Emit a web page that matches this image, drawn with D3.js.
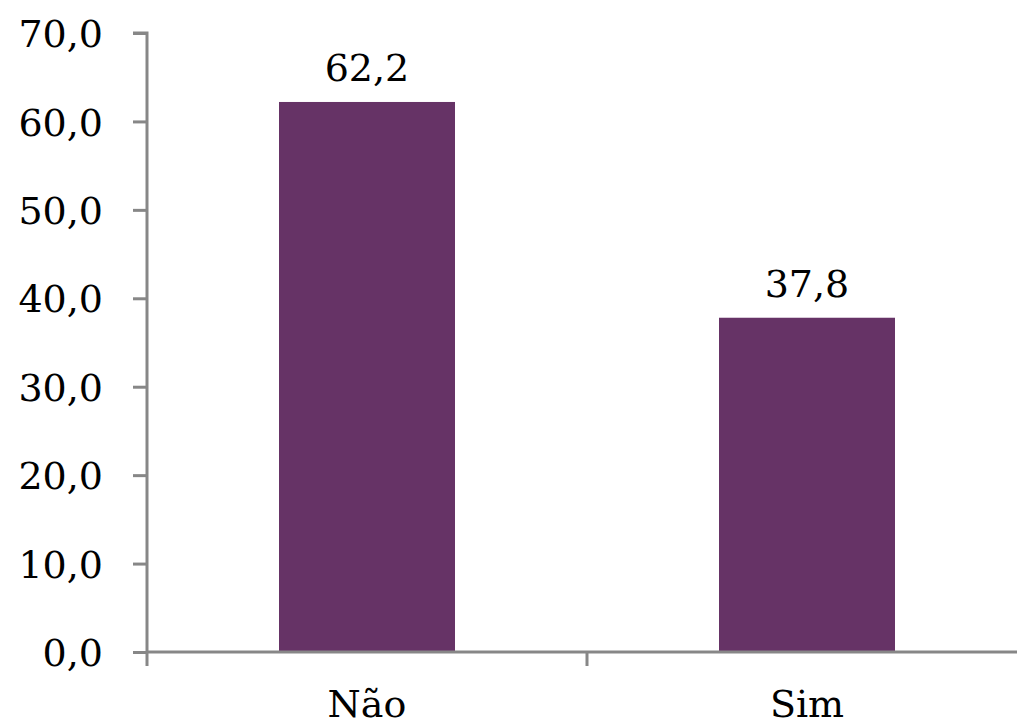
<!DOCTYPE html>
<html><head><meta charset="utf-8">
<script src="https://cdn.jsdelivr.net/npm/d3@7"></script>
<style>html,body{margin:0;padding:0;background:#fff;overflow:hidden}</style>
</head><body>
<svg id="c" width="1017" height="727"></svg>
<script>
const categories = ["Não", "Sim"];
const values = [62.2, 37.8];
const yTicks = [0, 10, 20, 30, 40, 50, 60, 70];

const svg = d3.select("#c");
const font = "'DejaVu Serif', serif";
const fs = 38;
const fmt = v => d3.format(".1f")(v).replace(".", ",");

const x = d3.scaleBand().domain(categories).range([147, 1027]).padding(0);
const y = d3.scaleLinear().domain([0, 70]).range([652, 33]);
const barW = x.bandwidth() * 0.4;
const axisColor = "#878787";

svg.selectAll("rect.bar").data(values).join("rect")
  .attr("class", "bar")
  .attr("x", (d, i) => x(categories[i]) + x.bandwidth() / 2 - barW / 2)
  .attr("width", barW)
  .attr("y", d => y(d))
  .attr("height", d => y(0) - y(d))
  .attr("fill", "#663366");

svg.selectAll("text.val").data(values).join("text")
  .attr("class", "val")
  .attr("x", (d, i) => x(categories[i]) + x.bandwidth() / 2)
  .attr("y", d => y(d) - 21)
  .attr("text-anchor", "middle")
  .attr("font-family", font).attr("font-size", fs)
  .attr("fill", "#000")
  .text(d => fmt(d));

// y axis
const yAxis = d3.axisLeft(y).tickValues(yTicks).tickFormat(fmt).tickSize(14).tickPadding(30);
const gy = svg.append("g").attr("transform", "translate(147,0)").call(yAxis);
gy.select(".domain").attr("stroke", axisColor).attr("stroke-width", 3).attr("d", "M-14,33H0V652");
gy.selectAll(".tick line").attr("stroke", axisColor).attr("stroke-width", 3);
gy.selectAll(".tick text").attr("font-family", font).attr("font-size", fs).attr("fill", "#000").attr("dy", "0.36em");

// x axis
const xTickPos = [147, 587, 1027];
const gx = svg.append("g");
gx.append("line").attr("x1", 147).attr("x2", 1017).attr("y1", y(0)).attr("y2", y(0))
  .attr("stroke", axisColor).attr("stroke-width", 3);
gx.selectAll("line.tk").data(xTickPos).join("line").attr("class", "tk")
  .attr("x1", d => d).attr("x2", d => d).attr("y1", y(0)).attr("y2", y(0) + 14)
  .attr("stroke", axisColor).attr("stroke-width", 3);
gx.selectAll("text.cat").data(categories).join("text").attr("class", "cat")
  .attr("x", d => x(d) + x.bandwidth() / 2)
  .attr("y", 717)
  .attr("text-anchor", "middle")
  .attr("font-family", font).attr("font-size", fs).attr("fill", "#000")
  .text(d => d);
</script>
</body></html>
